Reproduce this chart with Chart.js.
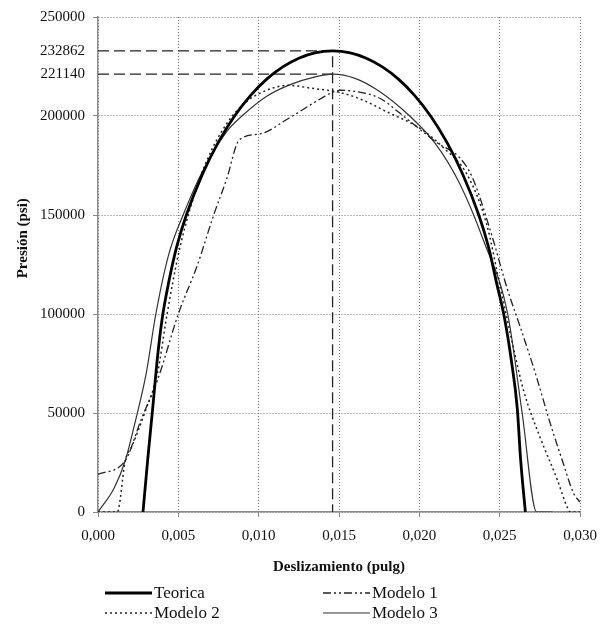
<!DOCTYPE html>
<html>
<head>
<meta charset="utf-8">
<script src="https://cdn.jsdelivr.net/npm/chart.js@4/dist/chart.umd.min.js"></script>
<style>
  html, body { margin: 0; padding: 0; background: #fff; }
  #wrap { width: 613px; height: 624px; }
</style>
</head>
<body>
<div id="wrap"><canvas id="presion"></canvas></div>
<script>
// tick labels
let X_TICKS = [0, 0.005, 0.010, 0.015, 0.020, 0.025, 0.030];
let Y_TICKS = [0, 50000, 100000, 150000, 200000, 221140, 232862, 250000];

// peak markers (dashed)
let PEAK_X = 0.0146;
let PEAK_TEO = 232862;
let PEAK_M3 = 221140;

// Teorica
let TEO_X = [0.0028, 0.0031, 0.0034, 0.0037, 0.0040, 0.0044, 0.0049, 0.0055, 0.0065, 0.0075, 0.0085, 0.0095, 0.0105, 0.0115, 0.0125, 0.0135, 0.0146,
             0.0157, 0.0167, 0.0177, 0.0187, 0.0197, 0.0207, 0.0217, 0.0227, 0.0237, 0.0243, 0.0248, 0.0253, 0.0257, 0.0261, 0.0263, 0.0266];
let TEO_Y = [0, 27000, 52000, 78000, 98000, 116000, 134000, 150000, 170600, 186900, 200000, 210400, 218600, 224800, 229200, 231900, 232862,
             231900, 229200, 224800, 218600, 210400, 200000, 186900, 170600, 150000, 134000, 116000, 98000, 78000, 52000, 27000, 0];

// Modelo 1
let M1_X = [0, 0.0017, 0.0027, 0.0037, 0.0050, 0.0062, 0.0072, 0.0080, 0.0088, 0.0101, 0.0119, 0.0134, 0.0146, 0.0151, 0.0165,
            0.0176, 0.0186, 0.0200, 0.0211, 0.0225, 0.0233, 0.0245, 0.0255, 0.0263, 0.0273, 0.0281, 0.0289, 0.0296, 0.0300];
let M1_Y = [19000, 26000, 47000, 66500, 100000, 125000, 150000, 168000, 188000, 191000, 199000, 206500, 212000, 213000, 211700,
            208700, 202600, 193500, 186500, 179000, 169000, 140000, 112000, 93000, 68000, 46000, 26000, 9500, 5000];

// Modelo 2
let M2_X = [0, 0.0012, 0.0017, 0.0021, 0.0029, 0.0037, 0.0043, 0.0050, 0.0058, 0.0068, 0.0080, 0.0092, 0.0105, 0.0118, 0.0133,
            0.0150, 0.0165, 0.0180, 0.0200, 0.0215, 0.0230, 0.0242, 0.0250, 0.0258, 0.0265, 0.0275, 0.0286, 0.0292, 0.0294, 0.0300];
let M2_Y = [0, 0, 26000, 33000, 50000, 70000, 100000, 130000, 155000, 178000, 196000, 207000, 213000, 215500, 214000,
            212000, 208000, 202000, 194000, 184000, 170000, 145000, 115000, 85000, 61000, 38000, 16000, 2500, 0, 0];

// Modelo 3
let M3_X = [0, 0.0010, 0.0017, 0.0023, 0.0030, 0.0036, 0.0044, 0.0054, 0.0065, 0.0080, 0.0091, 0.0105, 0.0120, 0.0134, 0.0146,
            0.0160, 0.0175, 0.0194, 0.0210, 0.0225, 0.0240, 0.0255, 0.0264, 0.0273, 0.0283];
let M3_Y = [0, 12000, 26000, 45000, 70000, 100000, 130000, 152000, 172000, 192000, 201000, 210000, 216000, 219500, 221140,
            219000, 212500, 200000, 186000, 166000, 137000, 100000, 50000, 0, 0];

function pts(xs, ys) {
  return xs.map((x, i) => ({ x: x, y: ys[i] }));
}

const SERIF = '"Liberation Serif", "Times New Roman", serif';

// draws the legend in two columns under the x title
const legendPlugin = {
  id: 'twoColLegend',
  afterDraw(chart) {
    const ctx = chart.ctx;
    const a = chart.chartArea;
    const items = chart.data.datasets.filter(d => d.inLegend);
    ctx.save();
    ctx.font = '17px ' + SERIF;
    ctx.textBaseline = 'middle';
    ctx.fillStyle = '#111';
    items.forEach((ds, k) => {
      const x = a.left + 7 + (k % 2) * 218;
      const y = a.bottom + 81 + Math.floor(k / 2) * 20;
      ctx.strokeStyle = ds.borderColor;
      ctx.lineWidth = ds.borderWidth;
      ctx.setLineDash(ds.borderDash || []);
      ctx.beginPath();
      ctx.moveTo(x, y);
      ctx.lineTo(x + 47, y);
      ctx.stroke();
      ctx.setLineDash([]);
      ctx.fillText(ds.label, x + 49, y + 1);
    });
    ctx.restore();
  }
};

const line = { showLine: true, pointRadius: 0, fill: false, cubicInterpolationMode: 'monotone' };

new Chart(document.getElementById('presion'), {
  type: 'scatter',
  data: {
    datasets: [
      Object.assign({ label: 'Teorica', data: pts(TEO_X, TEO_Y), borderColor: '#000', borderWidth: 2.8, inLegend: true }, line),
      Object.assign({ label: 'Modelo 1', data: pts(M1_X, M1_Y), borderColor: '#222', borderWidth: 1.3, borderDash: [8, 3, 2, 3, 2, 3], inLegend: true }, line),
      Object.assign({ label: 'Modelo 2', data: pts(M2_X, M2_Y), borderColor: '#222', borderWidth: 1.5, borderDash: [2, 3], inLegend: true }, line),
      Object.assign({ label: 'Modelo 3', data: pts(M3_X, M3_Y), borderColor: '#333', borderWidth: 1.2, inLegend: true }, line),
      { label: 'ref1', data: pts([0, PEAK_X, PEAK_X], [PEAK_TEO, PEAK_TEO, 0]), showLine: true, pointRadius: 0,
        borderColor: '#222', borderWidth: 1.3, borderDash: [11, 5], tension: 0 },
      { label: 'ref2', data: pts([0, PEAK_X], [PEAK_M3, PEAK_M3]), showLine: true, pointRadius: 0,
        borderColor: '#222', borderWidth: 1.3, borderDash: [11, 5], tension: 0 }
    ]
  },
  options: {
    responsive: true,
    maintainAspectRatio: false,
    animation: false,
    layout: { padding: { left: 0, top: 16, right: 33, bottom: 48 } },
    plugins: {
      legend: { display: false },
      tooltip: { enabled: false }
    },
    scales: {
      x: {
        type: 'linear',
        min: 0,
        max: 0.03,
        afterBuildTicks: s => { s.ticks = X_TICKS.map(v => ({ value: v })); },
        afterFit: s => { s.height = 64; },
        ticks: {
          color: '#111',
          font: { family: SERIF, size: 15 },
          padding: 10,
          maxRotation: 0,
          callback: v => v.toFixed(3).replace('.', ',')
        },
        grid: { color: '#777', tickColor: '#888', tickLength: 5, lineWidth: 1 },
        border: { color: '#8a8a8a', width: 1.5, dash: [1, 2] },
        title: {
          display: true,
          text: 'Deslizamiento (pulg)',
          color: '#111',
          font: { family: SERIF, size: 15, weight: 'bold' },
          padding: { top: 0, bottom: 0 }
        }
      },
      y: {
        min: 0,
        max: 250000,
        afterBuildTicks: s => { s.ticks = Y_TICKS.map(v => ({ value: v })); },
        afterFit: s => { s.width = 98; },
        ticks: {
          color: '#111',
          autoSkip: false,
          font: { family: SERIF, size: 15 },
          padding: 8,
          callback: v => String(v)
        },
        grid: {
          color: c => (c.tick && c.tick.value % 50000 !== 0) ? 'rgba(0,0,0,0)' : '#777',
          tickColor: c => (c.tick && c.tick.value % 50000 !== 0) ? 'rgba(0,0,0,0)' : '#888',
          tickLength: 5,
          lineWidth: 1
        },
        border: { color: '#8a8a8a', width: 1.5, dash: [1, 2] },
        title: {
          display: true,
          text: '              Presión (psi)',
          color: '#111',
          font: { family: SERIF, size: 15, weight: 'bold' },
          padding: { top: 14, bottom: 0 }
        }
      }
    }
  },
  plugins: [legendPlugin]
});
</script>
</body>
</html>
